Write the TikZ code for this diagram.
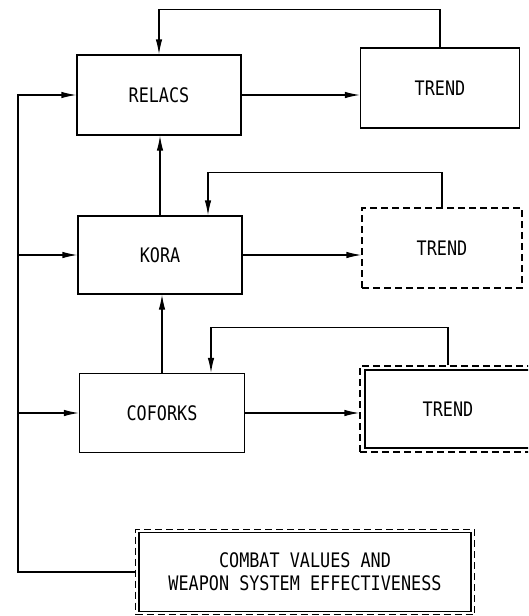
\documentclass[tikz,border=0pt]{standalone}
\usepackage{fontspec}
\newfontfamily\plotfont[FakeStretch=0.84]{DejaVu Sans Mono}
\usetikzlibrary{arrows.meta}

\begin{document}
\begin{tikzpicture}[x=1pt,y=-1pt,line width=1.2pt,
    >={Latex[length=15pt,width=6.5pt]},
    blk/.style={draw,inner sep=0pt,minimum width=164pt,minimum height=80pt,
      font=\plotfont\fontsize{20}{23}\selectfont},
    frame/.style={draw,dash pattern=on 7pt off 4pt,inner sep=0pt}]
  \useasboundingbox (0,0) rectangle (528,616);
  \clip (0,0) rectangle (528,616);
  \node[blk] (relacs) at (159,95) {RELACS};
  \node[blk,minimum width=159pt] (trend1) at (440,88) {TREND};
  \node[blk,minimum height=78pt] (kora) at (160,255) {KORA};
  \node[blk,frame,minimum width=160pt] (trend2) at (442,248) {TREND};
  \node[blk,minimum width=165pt,minimum height=79pt] (coforks) at (162,413) {COFORKS};
  % TREND box with double frame, cut at the right edge
  \node[frame,minimum width=176pt,minimum height=86pt] (trend3o) at (448,409) {};
  \node[blk,minimum width=166pt,minimum height=78pt] (trend3) at (448,409) {TREND};
  \node[frame,minimum width=339pt,minimum height=85pt] (cvo) at (305,572) {};
  \node[blk,minimum width=332pt,minimum height=79pt,align=center] (cv) at (305,572)
    {COMBAT VALUES AND\\WEAPON SYSTEM EFFECTIVENESS};
  \draw[->] (relacs.east) -- (relacs.east -| trend1.west);
  \draw[->] (kora.east) -- (kora.east -| trend2.west);
  \draw[->] (coforks.east) -- (coforks.east -| trend3o.west);
  \draw[->] (kora.north) -- (kora.north |- relacs.south);
  \draw[->] (coforks.north) -- (coforks.north |- kora.south);
  % feedback from each TREND box
  \draw[->] (trend1.north) -- ++(0,-38) -| (relacs.north);
  \draw[->] (trend2.north) -- ++(0,-35) -| ([xshift=48pt]kora.north);
  \draw[->] (trend3o.north) -- ++(0,-38) -| ([xshift=49pt]coforks.north);
  % input line on the left
  \coordinate (bus) at (18,0);
  \draw[->] (cvo.west) -| (bus |- relacs.west) -- (relacs.west);
  \draw[->] (bus |- kora.west) -- (kora.west);
  \draw[->] (bus |- coforks.west) -- (coforks.west);
\end{tikzpicture}
\end{document}
